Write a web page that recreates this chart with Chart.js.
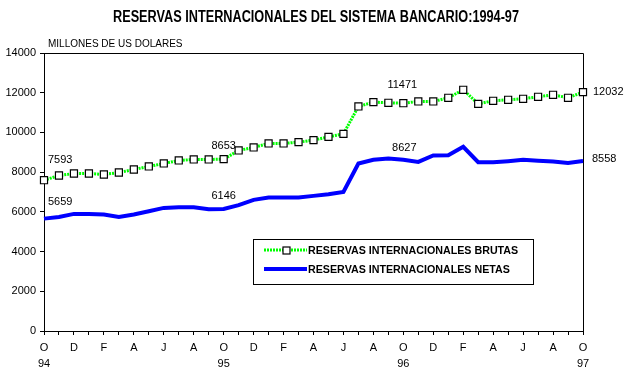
<!DOCTYPE html>
<html>
<head>
<meta charset="utf-8">
<script src="https://cdn.jsdelivr.net/npm/chart.js@4/dist/chart.umd.min.js"></script>
<style>
  body { margin: 0; background: #fff; }
  canvas { display: block; }
</style>
</head>
<body>
<canvas id="grafico" width="627" height="376"></canvas>
<script>
// Reservas internacionales del sistema bancario, oct-94 a oct-97 (millones de US$)
const meses = ['O','N','D','E','F','M','A','M','J','J','A','S',
               'O','N','D','E','F','M','A','M','J','J','A','S',
               'O','N','D','E','F','M','A','M','J','J','A','S','O'];
const anios = ['94', '95', '96', '97'];

const brutas = [7593, 7831, 7932, 7932, 7881, 7982, 8133, 8285, 8436, 8587, 8638, 8638,
                8653, 9091, 9243, 9444, 9444, 9510, 9610, 9777, 9928, 11307, 11525, 11492,
                11471, 11559, 11559, 11744, 12147, 11441, 11593, 11643, 11694, 11794, 11895, 11744,
                12032];
const netas = [5659, 5746, 5897, 5897, 5864, 5746, 5864, 6032, 6200, 6234, 6234, 6133,
               6146, 6335, 6604, 6721, 6721, 6721, 6805, 6888, 7005, 8434, 8620, 8686,
               8627, 8518, 8837, 8854, 9274, 8500, 8500, 8551, 8618, 8568, 8534, 8467,
               8558];

const yTicks = [0, 2000, 4000, 6000, 8000, 10000, 12000, 14000];

// etiquetas de valores puntuales: serie, indice del mes
const etiquetas = [
    { serie: 0, i: 0, dx: 4, dy: -20, align: 'left' },
    { serie: 1, i: 0, dx: 4, dy: -17, align: 'left' },
    { serie: 0, i: 12, dx: 0, dy: -13, align: 'center' },
    { serie: 1, i: 12, dx: 0, dy: -13, align: 'center' },
    { serie: 0, i: 24, dx: -1, dy: -18, align: 'center' },
    { serie: 1, i: 24, dx: 1, dy: -12, align: 'center' },
    { serie: 0, i: 36, dx: 10, dy: 0, align: 'left' },
    { serie: 1, i: 36, dx: 9, dy: -2, align: 'left' }
];

const FUENTE = '"Liberation Sans", Arial, sans-serif';
const VERDE = '#00ff00';
const AZUL = '#0000ff';

// texto comprimido a un ancho dado (el original usa una fuente estrecha)
function textoAncho(ctx, txt, cx, cy, ancho) {
    const w = ctx.measureText(txt).width;
    ctx.save();
    ctx.translate(cx, cy);
    ctx.scale(Math.min(1, ancho / w), 1);
    ctx.textAlign = 'center';
    ctx.fillText(txt, 0, 0);
    ctx.restore();
}

const extras = {
    id: 'extras',
    beforeDatasetsDraw(chart) {
        const { ctx, chartArea: a } = chart;
        ctx.save();
        ctx.strokeStyle = '#000';
        ctx.lineWidth = 1;
        ctx.beginPath();
        ctx.moveTo(Math.round(a.left) + 0.5, Math.round(a.top) + 0.5);
        ctx.lineTo(Math.round(a.right) + 0.5, Math.round(a.top) + 0.5);
        ctx.lineTo(Math.round(a.right) + 0.5, Math.round(a.bottom) + 0.5);
        ctx.stroke();
        ctx.restore();
    },
    afterDraw(chart) {
        const { ctx, chartArea: a } = chart;
        ctx.save();
        ctx.fillStyle = '#000';

        // titulo
        ctx.font = 'bold 16px ' + FUENTE;
        ctx.textBaseline = 'middle';
        textoAncho(ctx, 'RESERVAS INTERNACIONALES DEL SISTEMA BANCARIO:1994-97', 316, 18, 406);

        ctx.font = '10px ' + FUENTE;
        ctx.textAlign = 'left';
        ctx.fillText('MILLONES DE US DOLARES', 48, 44);

        // etiquetas de datos
        ctx.font = '11px ' + FUENTE;
        etiquetas.forEach(e => {
            const meta = chart.getDatasetMeta(e.serie);
            const p = meta.data[e.i];
            const valor = chart.data.datasets[e.serie].data[e.i];
            ctx.textAlign = e.align;
            ctx.fillText(String(valor), p.x + e.dx, p.y + e.dy);
        });

        // leyenda
        const lx = a.left + 209, ly = a.top + 186;
        ctx.fillStyle = '#fff';
        ctx.fillRect(lx, ly, 280, 45);
        ctx.strokeStyle = '#000';
        ctx.lineWidth = 1;
        ctx.strokeRect(lx + 0.5, ly + 0.5, 280, 45);

        ctx.strokeStyle = VERDE;
        ctx.lineWidth = 3;
        ctx.setLineDash([2, 1]);
        ctx.beginPath();
        ctx.moveTo(lx + 11, ly + 11);
        ctx.lineTo(lx + 54, ly + 11);
        ctx.stroke();
        ctx.setLineDash([]);
        ctx.fillStyle = '#fff';
        ctx.fillRect(lx + 30, ly + 8, 7, 7);
        ctx.strokeStyle = '#000';
        ctx.lineWidth = 1.2;
        ctx.strokeRect(lx + 30, ly + 8, 7, 7);

        ctx.strokeStyle = AZUL;
        ctx.lineWidth = 4;
        ctx.beginPath();
        ctx.moveTo(lx + 11, ly + 30);
        ctx.lineTo(lx + 54, ly + 30);
        ctx.stroke();

        ctx.fillStyle = '#000';
        ctx.font = 'bold 10.7px ' + FUENTE;
        ctx.textAlign = 'left';
        ctx.fillText('RESERVAS INTERNACIONALES BRUTAS', lx + 55, ly + 12);
        ctx.fillText('RESERVAS INTERNACIONALES NETAS', lx + 55, ly + 31);
        ctx.restore();
    }
};

new Chart(document.getElementById('grafico'), {
    type: 'line',
    data: {
        labels: meses,
        datasets: [{
            label: 'RESERVAS INTERNACIONALES BRUTAS',
            data: brutas,
            borderColor: VERDE,
            borderWidth: 3,
            borderDash: [2, 1],
            tension: 0,
            pointStyle: 'rect',
            pointRadius: 5,
            pointBackgroundColor: '#fff',
            pointBorderColor: '#000',
            pointBorderWidth: 1.2
        }, {
            label: 'RESERVAS INTERNACIONALES NETAS',
            data: netas,
            borderColor: AZUL,
            borderWidth: 4,
            tension: 0,
            pointRadius: 0
        }]
    },
    options: {
        responsive: false,
        animation: false,
        devicePixelRatio: 1,
        layout: { padding: { top: 53, right: 44, left: 0, bottom: 0 } },
        plugins: {
            legend: { display: false },
            tooltip: { enabled: false }
        },
        scales: {
            x: {
                offset: false,
                grid: { drawOnChartArea: false, drawTicks: true, tickLength: 4, color: '#000' },
                border: { display: true, color: '#000', width: 1 },
                ticks: {
                    autoSkip: false,
                    maxRotation: 0,
                    minRotation: 0,
                    padding: 5,
                    color: '#000',
                    font: { family: FUENTE, size: 11, lineHeight: 1.45 },
                    callback: (v, i) => {
                        if (i % 2) return '';
                        if (i % 12 === 0) return [meses[i], anios[i / 12]];
                        return meses[i];
                    }
                },
                afterFit: s => { s.height = 45; }
            },
            y: {
                min: 0,
                max: 14000,
                afterBuildTicks: s => { s.ticks = yTicks.map(v => ({ value: v })); },
                grid: { drawOnChartArea: false, drawTicks: true, tickLength: 4, color: '#000' },
                border: { display: true, color: '#000', width: 1 },
                ticks: {
                    padding: 4,
                    color: '#000',
                    font: { family: FUENTE, size: 11 },
                    callback: v => String(v)
                },
                afterFit: s => { s.width = 44; }
            }
        }
    },
    plugins: [extras]
});
</script>
</body>
</html>
